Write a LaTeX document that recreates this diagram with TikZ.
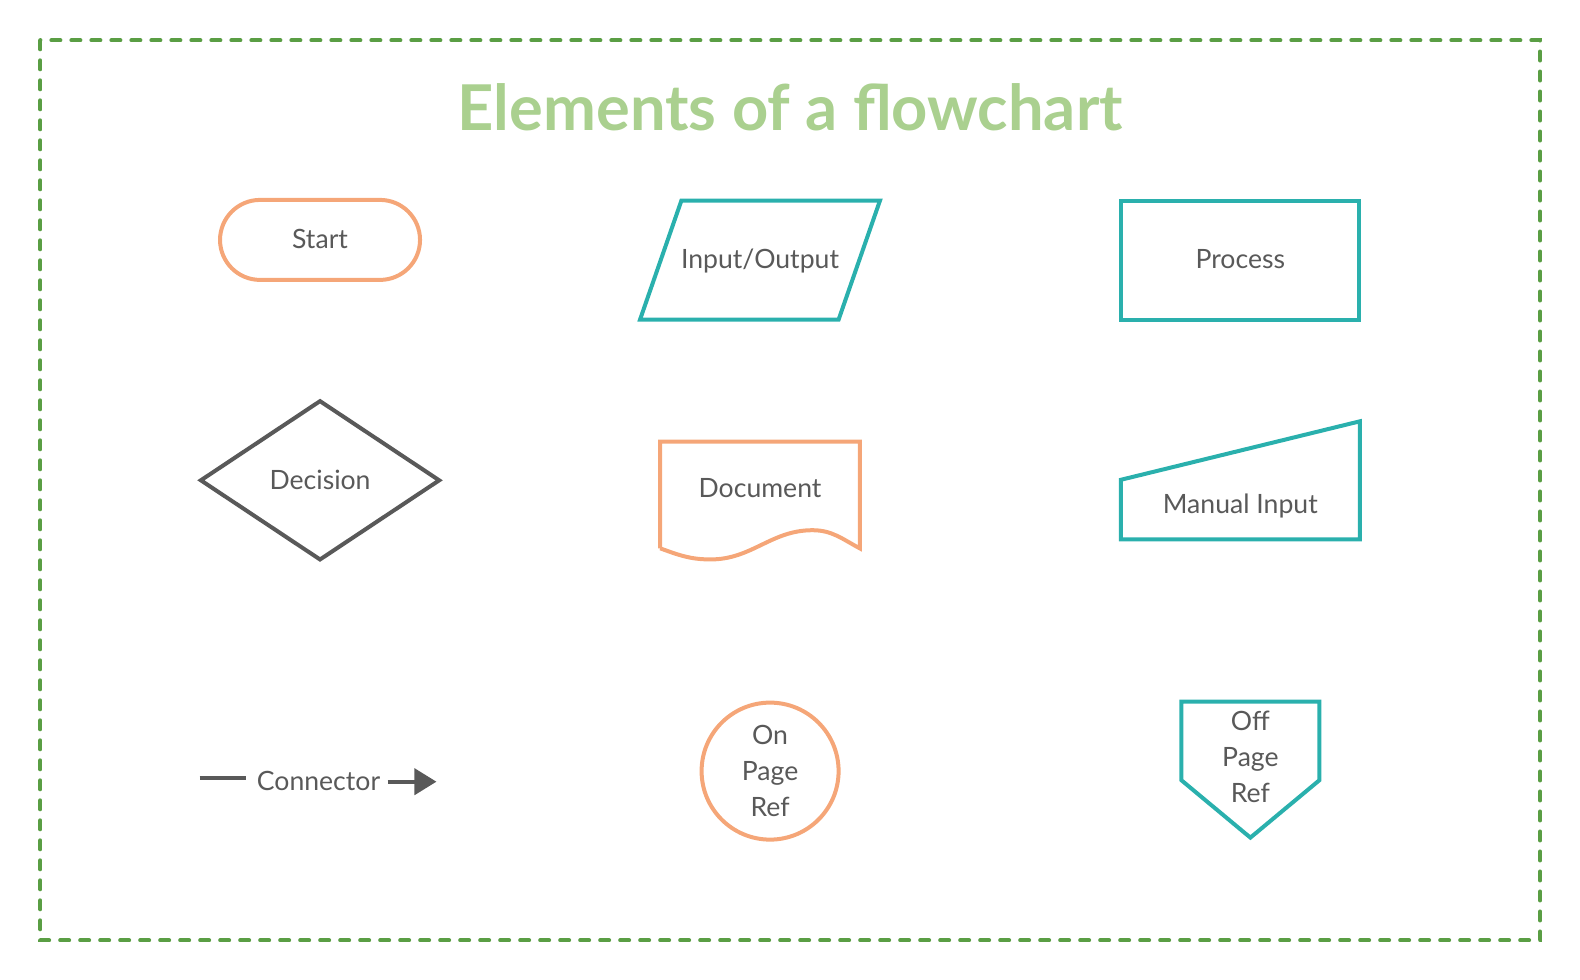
\documentclass[tikz,border=0pt]{standalone}
\usepackage{fontspec}
\setmainfont{Lato}
\usetikzlibrary{shapes.geometric}
\usetikzlibrary{shapes.misc}
\usetikzlibrary{arrows.meta}
\definecolor{framegreen}{RGB}{90,158,68}
\definecolor{titlegreen}{RGB}{170,208,143}
\definecolor{peach}{RGB}{245,166,120}
\definecolor{tealline}{RGB}{42,176,173}
\definecolor{inkgray}{RGB}{89,89,89}
\tikzstyle{frame}=[framegreen,line width=2pt,dash pattern=on 4.5pt off 5.5pt,line cap=round]
\tikzstyle{outline}=[line width=2pt,line join=miter]
\tikzstyle{shapetext}=[text=inkgray,font=\shapefont,inner sep=0pt,align=center]
\tikzstyle{oneline}=[shapetext,text height=0.87em,text depth=0pt]
\tikzstyle{wire}=[inkgray,line width=2pt]
\newcommand{\shapefont}{\fontsize{13.3}{17.9}\selectfont}
\newcommand{\titlefont}{\fontsize{31.6}{36}\bfseries\selectfont}

\begin{document}
\begin{tikzpicture}[x=0.504pt,y=-0.504pt]
\useasboundingbox (0,0) rectangle (1567.5,972.2);
\draw[frame] (40,40) rectangle (1528,933);
\node[titlegreen,font=\titlefont,inner sep=0pt,anchor=base] (title) at (784,129) {Elements of a flowchart};

% row 1
\node[rounded rectangle,draw=peach,outline,minimum width=100pt,minimum height=40pt,oneline] (start) at (317.5,238) {Start};
\draw[outline,tealline] (676,199) -- (873,199) -- (832,317) -- (635,317) -- cycle;
\node[oneline] (io) at (754,258) {Input/Output};
\node[draw=tealline,outline,minimum width=119pt,minimum height=59.5pt,oneline] (process) at (1230.5,258) {Process};

% row 2
\node[diamond,draw=inkgray,outline,minimum width=120pt,minimum height=80pt,oneline] (decision) at (317.5,476.5) {Decision};
\draw[outline,peach] (655,544) -- (655,438) -- (853,438) -- (853,544)
    to[out=152,in=0] (806,526) to[out=180,in=0] (705,555) to[out=180,in=-20] (655,544);
\node[oneline] (document) at (754,485) {Document};
\draw[outline,tealline] (1112,476) -- (1349,418) -- (1349,535) -- (1112,535) -- cycle;
\node[oneline] (manual) at (1230.5,501) {Manual Input};

% row 3
\coordinate (cleft) at (198,772);
\coordinate (cright) at (433,775.5);
\node[oneline,inner xsep=3.5pt] (connector) at (316,775.5) {Connector};
\draw[wire] (cleft) -- ([xshift=-1.5pt]cleft -| connector.west);
\draw[wire,-{Triangle[length=11pt,width=13pt]}] (connector.east) -- (cright);
\node[circle,draw=peach,outline,minimum size=68.5pt,shapetext] (onpage) at (764,765) {On\\Page\\Ref};
\draw[outline,tealline] (1172,696) -- (1309,696) -- (1309,774) -- (1240.5,831) -- (1172,774) -- cycle;
\node[shapetext] (offpage) at (1240.5,751) {Off\\Page\\Ref};
\end{tikzpicture}
\end{document}
